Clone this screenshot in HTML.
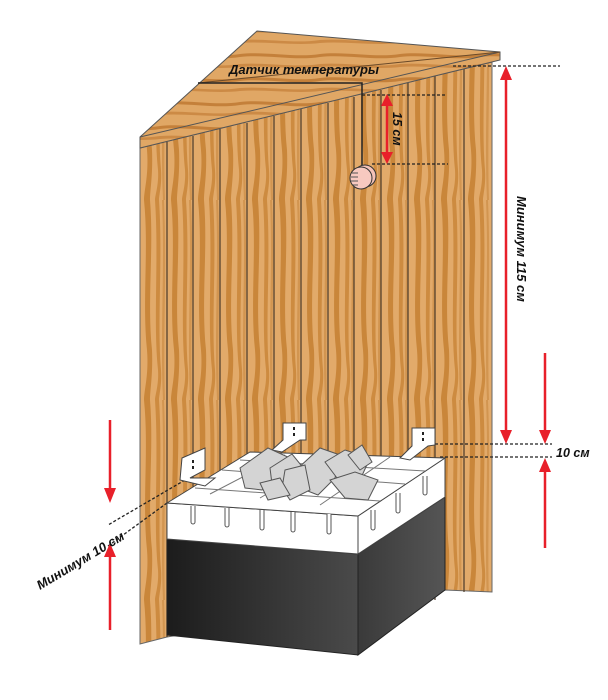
<!DOCTYPE html>
<html><head><meta charset="utf-8"><style>
html,body{margin:0;padding:0;background:#fff;}
svg{display:block;}
text{font-family:"Liberation Sans",sans-serif;font-weight:bold;font-style:italic;fill:#111;}
</style></head><body>
<svg width="608" height="700" viewBox="0 0 608 700" xmlns="http://www.w3.org/2000/svg">
<defs>
<pattern id="wood" x="140" y="0" width="27" height="200" patternUnits="userSpaceOnUse">
<rect width="27" height="200" fill="#e2aa6a"/>
<path d="M4 0 C9 50 2 100 7 150 C9 175 4 190 4 200 L10 200 C10 190 13 175 12 150 C7 100 14 50 10 0Z" fill="#c9863a"/>
<path d="M15 0 C19 60 13 120 18 170 C19 185 15 195 15 200 L19 200 C19 195 22 185 21 170 C17 120 23 60 19 0Z" fill="#cd8b40"/>
<path d="M22 0 C25 70 20 130 23 200 L25 200 C23 130 27 70 24 0Z" fill="#d29550"/>
</pattern>
<pattern id="woodc" x="0" y="0" width="80" height="24" patternUnits="userSpaceOnUse">
<rect width="80" height="24" fill="#e0a765"/>
<path d="M0 6 C25 3 55 10 80 6 L80 9 C55 13 25 6 0 9Z" fill="#c4803a"/>
<path d="M0 16 C25 14 55 20 80 16 L80 19 C55 22 25 17 0 19Z" fill="#cc8a45"/>
</pattern>
<linearGradient id="blk" x1="0" x2="1"><stop offset="0" stop-color="#1c1c1c"/><stop offset="1" stop-color="#4a4a4a"/></linearGradient>
<linearGradient id="blk2" x1="0" x2="1"><stop offset="0" stop-color="#3a3a3a"/><stop offset="1" stop-color="#555"/></linearGradient>
</defs>

<polygon points="140,148 492,62 492,592 445,590 167,637 140,644" fill="url(#wood)" stroke="#666" stroke-width="1"/>
<g stroke="#4a3a2a" stroke-width="1.2">
<line x1="167" y1="142" x2="167" y2="637"/><line x1="193" y1="136" x2="193" y2="600"/>
<line x1="220" y1="129" x2="220" y2="600"/><line x1="247" y1="123" x2="247" y2="600"/>
<line x1="274" y1="116" x2="274" y2="600"/><line x1="301" y1="109" x2="301" y2="600"/>
<line x1="328" y1="103" x2="328" y2="600"/><line x1="354" y1="97" x2="354" y2="600"/>
<line x1="381" y1="90" x2="381" y2="600"/><line x1="408" y1="83" x2="408" y2="600"/>
<line x1="435" y1="76" x2="435" y2="600"/><line x1="464" y1="69" x2="464" y2="592"/>
</g>

<polygon points="140,137 257,31 500,52 500,60 140,148" fill="url(#woodc)" stroke="#555" stroke-width="1"/>
<line x1="140" y1="137" x2="500" y2="52" stroke="#555" stroke-width="1"/>
<line x1="198" y1="83" x2="500" y2="52" stroke="#6a4a2a" stroke-width="1"/>
<text x="229" y="74" font-size="13">Датчик температуры</text>

<polyline points="198,83 362,83 362,168" fill="none" stroke="#222" stroke-width="1.5"/>
<circle cx="365" cy="176" r="11" fill="#f3c2b8" stroke="#333" stroke-width="1"/>
<circle cx="361" cy="178" r="11" fill="#f7c9c0" stroke="#333" stroke-width="1"/>
<g stroke="#555" stroke-width="1"><line x1="352" y1="173" x2="358" y2="173"/><line x1="351" y1="177" x2="358" y2="177"/><line x1="351" y1="181" x2="358" y2="181"/><line x1="353" y1="185" x2="358" y2="185"/></g>

<g stroke="#222" stroke-width="1.3" stroke-dasharray="3,2" fill="none">
<line x1="362" y1="95" x2="447" y2="95"/><line x1="372" y1="164" x2="448" y2="164"/>
<line x1="453" y1="66" x2="560" y2="66"/>
<line x1="430" y1="444" x2="552" y2="444"/><line x1="440" y1="457" x2="552" y2="457"/>
<line x1="185" y1="480" x2="108" y2="525"/><line x1="167" y1="503" x2="108" y2="546"/>
</g>

<g stroke="#e8202a" stroke-width="2.5" fill="#e8202a">
<line x1="387" y1="104" x2="387" y2="154"/>
<polygon points="381,106 387,94 393,106" stroke="none"/><polygon points="381,152 387,164 393,152" stroke="none"/>
<line x1="506" y1="78" x2="506" y2="432"/>
<polygon points="500,80 506,66 512,80" stroke="none"/><polygon points="500,430 506,444 512,430" stroke="none"/>
<line x1="545" y1="353" x2="545" y2="432"/><polygon points="539,430 545,444 551,430" stroke="none"/>
<line x1="545" y1="470" x2="545" y2="548"/><polygon points="539,472 545,458 551,472" stroke="none"/>
<line x1="110" y1="420" x2="110" y2="490"/><polygon points="104,488 110,503 116,488" stroke="none"/>
<line x1="110" y1="555" x2="110" y2="630"/><polygon points="104,557 110,543 116,557" stroke="none"/>
</g>

<text font-size="12.5" transform="translate(393,112) rotate(90)">15 см</text>
<text font-size="13" transform="translate(517,196) rotate(90)">Минимум 115 см</text>
<text x="556" y="457" font-size="12.5">10 см</text>
<text font-size="13" transform="translate(40,590) rotate(-31)">Минимум 10 см</text>

<polygon points="167,539 358,554 358,655 167,635" fill="url(#blk)" stroke="#222"/>
<polygon points="358,554 445,497 445,590 358,655" fill="url(#blk2)" stroke="#222"/>
<polygon points="167,503 358,516 358,554 167,539" fill="#fff" stroke="#444"/>
<polygon points="358,516 445,458 445,497 358,554" fill="#fff" stroke="#444"/>
<polygon points="167,503 250,452 445,458 358,516" fill="#fff" stroke="#444"/>
<g stroke="#777" stroke-width="1" fill="none">
<line x1="195" y1="488" x2="380" y2="501"/><line x1="222" y1="470" x2="405" y2="484"/><line x1="240" y1="460" x2="425" y2="471"/>
<line x1="210" y1="494" x2="285" y2="455"/><line x1="260" y1="498" x2="330" y2="456"/><line x1="320" y1="505" x2="390" y2="457"/>
</g>
<g fill="#fff" stroke="#444" stroke-width="1">
<polygon points="283,423 306,423 306,440 300,440 282,452 272,450 283,440"/>
<polygon points="412,428 435,428 435,445 428,446 410,460 400,458 412,446"/>
<polygon points="182,458 205,448 205,470 190,478 215,478 205,486 180,480"/>
</g>
<g fill="#222"><rect x="293" y="427" width="2" height="3"/><rect x="293" y="433" width="2" height="3"/>
<rect x="422" y="432" width="2" height="3"/><rect x="422" y="438" width="2" height="3"/>
<rect x="192" y="460" width="2" height="3"/><rect x="192" y="466" width="2" height="3"/></g>
<g fill="#d4d4d4" stroke="#555" stroke-width="1">
<polygon points="240,468 268,448 290,458 282,480 262,490 245,488"/>
<polygon points="270,468 292,454 305,470 290,490 272,484"/>
<polygon points="296,470 320,448 340,455 335,478 318,495 300,488"/>
<polygon points="285,470 305,465 310,490 290,500 282,488"/>
<polygon points="325,462 345,450 370,458 360,480 340,482"/>
<polygon points="330,480 355,472 378,480 368,500 345,498"/>
<polygon points="348,455 362,445 372,462 360,470"/>
<polygon points="260,483 280,478 290,495 268,500"/>
</g>
<g fill="#fff" stroke="#555" stroke-width="1">
<path d="M191 506 v16 a2 2 0 0 0 4 0 v-16"/><path d="M225 508 v17 a2 2 0 0 0 4 0 v-17"/>
<path d="M260 510 v18 a2 2 0 0 0 4 0 v-18"/><path d="M291 512 v18 a2 2 0 0 0 4 0 v-18"/>
<path d="M327 514 v18 a2 2 0 0 0 4 0 v-18"/>
<path d="M371 510 v18 a2 2 0 0 0 4 0 v-18"/><path d="M396 493 v18 a2 2 0 0 0 4 0 v-18"/>
<path d="M423 476 v17 a2 2 0 0 0 4 0 v-17"/>
</g>
</svg>
</body></html>
